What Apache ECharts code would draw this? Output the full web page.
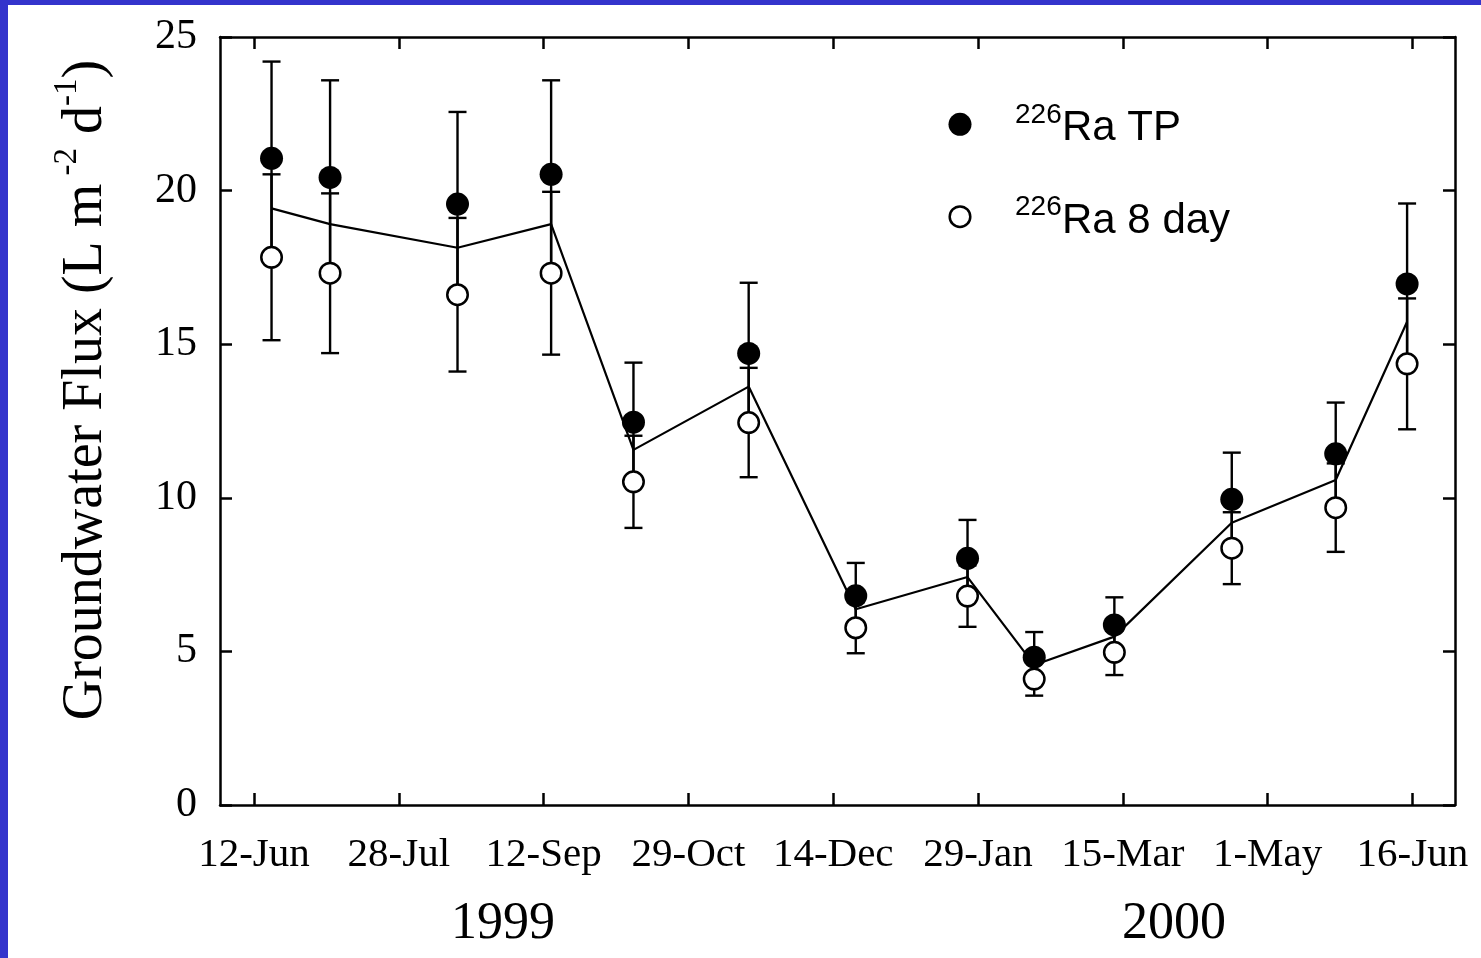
<!DOCTYPE html>
<html>
<head>
<meta charset="utf-8">
<script src="https://cdn.jsdelivr.net/npm/echarts@6/dist/echarts.min.js"></script>
<style>
html, body { margin: 0; padding: 0; background: #ffffff; }
#chart { width: 1481px; height: 958px; }
</style>
</head>
<body>
<div id="chart"></div>
<script>
// ---- data (days since 12-Jun-1999) ----
const sampleDays = [5.6, 24.3, 65.0, 94.9, 121.2, 158.0, 192.2, 227.9, 249.2, 274.8, 312.3, 345.5, 368.3];
const tpValues   = [21.05, 20.43, 19.56, 20.53, 12.46, 14.70, 6.81, 8.03, 4.81, 5.86, 9.95, 11.43, 16.96];
const tpErrors   = [3.15, 3.16, 3.00, 3.06, 1.94, 2.30, 1.07, 1.25, 0.82, 0.90, 1.52, 1.67, 2.62];
const dayValues  = [17.83, 17.31, 16.61, 17.31, 10.52, 12.45, 5.77, 6.80, 4.10, 4.97, 8.36, 9.68, 14.36];
const dayErrors  = [2.70, 2.60, 2.50, 2.65, 1.50, 1.78, 0.83, 1.00, 0.54, 0.74, 1.17, 1.44, 2.13];
const meanValues = [19.42, 18.91, 18.14, 18.91, 11.56, 13.62, 6.37, 7.42, 4.56, 5.48, 9.19, 10.58, 15.73];

const tickDays   = [0, 46.25, 92.5, 138.75, 185, 231.25, 277.5, 323.75, 370];
const tickLabels = ['12-Jun', '28-Jul', '12-Sep', '29-Oct', '14-Dec', '29-Jan', '15-Mar', '1-May', '16-Jun'];
const yearLabels = ['1999', '2000'];
const seriesNames = ['Ra TP', 'Ra 8 day'];
const isotope = '226';

// ---- build ----
const pair = (xs, ys) => xs.map((x, i) => [x, ys[i]]);
const errData = (vals, errs) => sampleDays.map((x, i) => [x, vals[i] - errs[i], vals[i] + errs[i]]);

const SERIF = 'Liberation Serif';
const SANS = 'Liberation Sans';

function errorBarRender(params, api) {
  const x = api.value(0);
  const lo = api.coord([x, api.value(1)]);
  const hi = api.coord([x, api.value(2)]);
  const hw = 9;
  const st = { stroke: '#000', lineWidth: 2.4 };
  return {
    type: 'group',
    children: [
      { type: 'line', shape: { x1: lo[0], y1: lo[1], x2: hi[0], y2: hi[1] }, style: st },
      { type: 'line', shape: { x1: lo[0] - hw, y1: lo[1], x2: lo[0] + hw, y2: lo[1] }, style: st },
      { type: 'line', shape: { x1: hi[0] - hw, y1: hi[1], x2: hi[0] + hw, y2: hi[1] }, style: st }
    ]
  };
}

// legend drawn as graphic rows
const legendRowY = [124.3, 216.7];
const legendStyles = [
  { fill: '#000', stroke: null, lineWidth: 0, r: 11.5 },
  { fill: '#fff', stroke: '#000', lineWidth: 2.5, r: 10.3 }
];
const legendGraphics = [];
seriesNames.forEach((name, i) => {
  const cy = legendRowY[i];
  const s = legendStyles[i];
  legendGraphics.push({ type: 'circle', shape: { cx: 960, cy: cy, r: s.r }, style: { fill: s.fill, stroke: s.stroke, lineWidth: s.lineWidth }, z: 10 });
  legendGraphics.push({ type: 'text', x: 1015, y: cy - 9.5, style: { text: isotope, font: '28px "Liberation Sans"', fill: '#000', align: 'left', verticalAlign: 'middle' }, z: 10 });
  legendGraphics.push({ type: 'text', x: 1062, y: cy + 4.5, style: { text: name, font: '42px "Liberation Sans"', fill: '#000', align: 'left', verticalAlign: 'middle' }, z: 10 });
});

const axisLineStyle = { color: '#000', width: 2.5 };
const xMin = -10.86, xMax = 383.6;

const chart = echarts.init(document.getElementById('chart'), null, { renderer: 'canvas' });
chart.setOption({
  animation: false,
  backgroundColor: '#ffffff',
  grid: { left: 220, right: 26, top: 37, bottom: 153, containLabel: false, outerBoundsMode: 'none' },
  xAxis: [
    {
      type: 'value', position: 'bottom', min: xMin, max: xMax,
      axisLine: { show: true, onZero: false, lineStyle: axisLineStyle },
      axisTick: { show: true, inside: true, length: 12, lineStyle: { color: '#000', width: 2.5 }, customValues: tickDays },
      axisLabel: {
        show: true, customValues: tickDays, margin: 30,
        fontFamily: SERIF, fontSize: 41, color: '#000',
        formatter: (v) => { const i = tickDays.findIndex(t => Math.abs(t - v) < 1e-6); return i >= 0 ? tickLabels[i] : ''; }
      },
      splitLine: { show: false }
    },
    {
      type: 'value', position: 'top', min: xMin, max: xMax,
      axisLine: { show: true, onZero: false, lineStyle: axisLineStyle },
      axisTick: { show: true, inside: true, length: 12, lineStyle: { color: '#000', width: 2.5 }, customValues: tickDays },
      axisLabel: { show: false },
      splitLine: { show: false }
    }
  ],
  yAxis: [
    {
      type: 'value', position: 'left', min: 0, max: 25, interval: 5,
      axisLine: { show: true, onZero: false, lineStyle: axisLineStyle },
      axisTick: { show: true, inside: true, length: 12, lineStyle: { color: '#000', width: 2.5 } },
      axisLabel: { show: true, margin: 23, fontFamily: SERIF, fontSize: 42, color: '#000' },
      splitLine: { show: false }
    },
    {
      type: 'value', position: 'right', min: 0, max: 25, interval: 5,
      axisLine: { show: true, onZero: false, lineStyle: axisLineStyle },
      axisTick: { show: true, inside: true, length: 12, lineStyle: { color: '#000', width: 2.5 } },
      axisLabel: { show: false },
      splitLine: { show: false }
    }
  ],
  graphic: [
    { type: 'rect', left: 0, top: 0, shape: { width: 8, height: 958 }, style: { fill: '#3434cc' } },
    { type: 'rect', left: 0, top: 0, shape: { width: 1481, height: 5 }, style: { fill: '#3434cc' } },
    {
      type: 'text', x: 86, y: 390, rotation: Math.PI / 2,
      style: {
        text: '{m|Groundwater Flux (L m}{s| -2}{m| d}{s|-1}{m|)}',
        align: 'center', verticalAlign: 'middle',
        rich: {
          m: { fontFamily: SERIF, fontSize: 56, lineHeight: 70, fill: '#000' },
          s: { fontFamily: SERIF, fontSize: 33, lineHeight: 33, verticalAlign: 'top', fill: '#000' }
        }
      }
    },
    { type: 'text', x: 503, y: 924, style: { text: yearLabels[0], font: '52px "Liberation Serif"', fill: '#000', align: 'center', verticalAlign: 'middle' } },
    { type: 'text', x: 1174, y: 924, style: { text: yearLabels[1], font: '52px "Liberation Serif"', fill: '#000', align: 'center', verticalAlign: 'middle' } }
  ].concat(legendGraphics),
  series: [
    { type: 'custom', name: 'tpErr', renderItem: errorBarRender, data: errData(tpValues, tpErrors), z: 2, encode: { x: 0, y: [1, 2] }, silent: true },
    { type: 'custom', name: 'dayErr', renderItem: errorBarRender, data: errData(dayValues, dayErrors), z: 2, encode: { x: 0, y: [1, 2] }, silent: true },
    { type: 'line', name: 'mean', data: pair(sampleDays, meanValues), symbol: 'none', lineStyle: { color: '#000', width: 2.2 }, z: 3 },
    { type: 'scatter', name: seriesNames[0], data: pair(sampleDays, tpValues), symbol: 'circle', symbolSize: 23, itemStyle: { color: '#000', opacity: 1 }, z: 4 },
    { type: 'scatter', name: seriesNames[1], data: pair(sampleDays, dayValues), symbol: 'circle', symbolSize: 20.5, itemStyle: { color: '#fff', borderColor: '#000', borderWidth: 2.5, opacity: 1 }, z: 5 }
  ]
});
</script>
</body>
</html>
